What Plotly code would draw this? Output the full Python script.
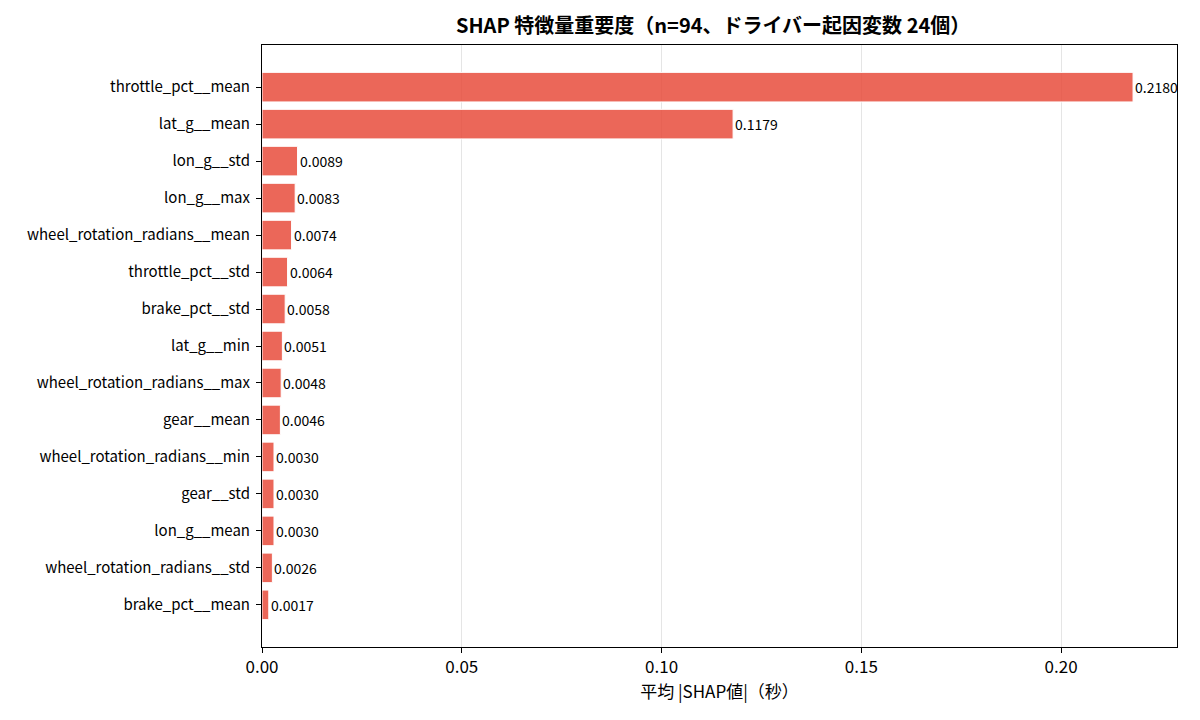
import plotly.graph_objects as go

# feature names (top to bottom) and mean |SHAP| values
features = [
    "throttle_pct__mean", "lat_g__mean", "lon_g__std", "lon_g__max",
    "wheel_rotation_radians__mean", "throttle_pct__std", "brake_pct__std",
    "lat_g__min", "wheel_rotation_radians__max", "gear__mean",
    "wheel_rotation_radians__min", "gear__std", "lon_g__mean",
    "wheel_rotation_radians__std", "brake_pct__mean",
]
shap_vals = [0.2180, 0.1179, 0.0089, 0.0083, 0.0074, 0.0064, 0.0058,
             0.0051, 0.0048, 0.0046, 0.0030, 0.0030, 0.0030, 0.0026, 0.0017]
x_ticks = [0.0, 0.05, 0.10, 0.15, 0.20]
x_ticklabels = ["0.00", "0.05", "0.10", "0.15", "0.20"]

# matplotlib barh draws first item at bottom -> reverse so largest is on top
feat_r = features[::-1]
vals_r = shap_vals[::-1]

font_jp = "Noto Sans CJK JP"

fig = go.Figure()
fig.add_trace(go.Bar(
    x=vals_r, y=feat_r, orientation="h",
    marker=dict(color="rgba(231,76,60,0.85)", line=dict(color="white", width=1)),
    width=0.8, hoverinfo="x+y",
))

# value labels next to each bar
for f, v in zip(feat_r, vals_r):
    fig.add_annotation(x=v, y=f, text=f"{v:.4f}", showarrow=False,
                       xanchor="left", yanchor="middle", xshift=0,
                       font=dict(size=14, color="black", family=font_jp))

# page body adds an 8px offset, margins compensate for it
fig.update_layout(
    width=1200, height=720,
    plot_bgcolor="white", paper_bgcolor="white",
    margin=dict(l=254, r=31, t=37, b=81, autoexpand=False),
    showlegend=False,
    title=dict(text="<b>SHAP 特徴量重要度（n=94、ドライバー起因変数 24個）</b>",
               x=0.493, xanchor="center", xref="paper",
               y=0.975, yanchor="middle", yref="container",
               font=dict(size=20, color="black", family=font_jp)),
    font=dict(family=font_jp, color="black"),
)
fig.update_xaxes(
    range=[0, 0.229], tickvals=x_ticks, ticktext=x_ticklabels,
    showgrid=True, gridcolor="#e5e5e5", gridwidth=1, zeroline=False,
    showline=True, linecolor="black", linewidth=1, mirror=True,
    ticks="outside", ticklen=5, tickcolor="black", automargin=False,
    tickfont=dict(size=17, family=font_jp),
    title=dict(text="平均 |SHAP値|（秒）", font=dict(size=17, family=font_jp), standoff=5),
)
fig.update_yaxes(
    range=[-1.14, 15.14], showgrid=False,
    showline=True, linecolor="black", linewidth=1, mirror=True,
    ticks="outside", ticklen=5, tickcolor="black", automargin=False,
    ticklabelstandoff=3,
    tickfont=dict(size=15, family=font_jp),
)

fig.write_html("out.html")
